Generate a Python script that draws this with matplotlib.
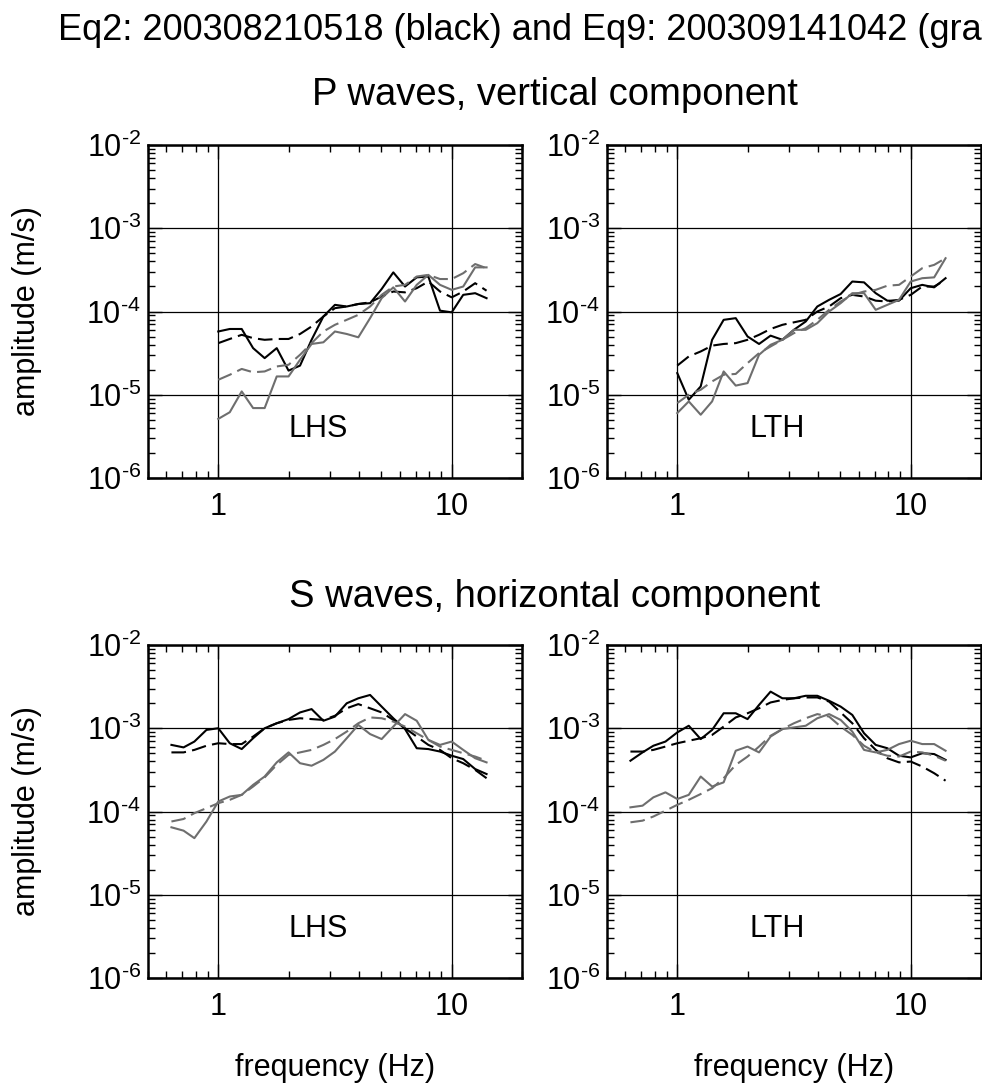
import numpy as np
import matplotlib
matplotlib.use('Agg')
import matplotlib.pyplot as plt
from matplotlib.ticker import LogLocator, FuncFormatter, NullFormatter

plt.rcParams['font.family'] = ['Liberation Sans', 'DejaVu Sans']
plt.rcParams['mathtext.fontset'] = 'custom'
plt.rcParams['mathtext.rm'] = 'Liberation Sans'
plt.rcParams['mathtext.it'] = 'Liberation Sans:italic'
plt.rcParams['mathtext.bf'] = 'Liberation Sans:bold'

# frequencies (Hz)
freq_p = [1.00, 1.12, 1.26, 1.41, 1.58, 1.78, 2.00, 2.24, 2.51, 2.82, 3.16, 3.55,
          3.98, 4.47, 5.01, 5.62, 6.31, 7.08, 7.94, 8.91, 10.0, 11.2, 12.6, 14.1]
freq_s = [0.63, 0.71, 0.79, 0.89, 1.00, 1.12, 1.26, 1.41, 1.58, 1.78, 2.00, 2.24,
          2.51, 2.82, 3.16, 3.55, 3.98, 4.47, 5.01, 5.62, 6.31, 7.08, 7.94, 8.91,
          10.0, 11.2, 12.6, 14.1]

# log10 amplitude (m/s)
# P waves, LHS
p_lhs_eq2 = [-4.24, -4.21, -4.21, -4.44, -4.56, -4.44, -4.71, -4.65, -4.34, -4.06, -3.92, -3.94,
             -3.91, -3.90, -3.73, -3.53, -3.70, -3.59, -3.58, -3.99, -4.01, -3.80, -3.78, -3.84]
p_lhs_eq2_fit = [-4.38, -4.33, -4.28, -4.32, -4.34, -4.33, -4.33, -4.27, -4.18, -4.06, -3.96, -3.94,
                 -3.91, -3.89, -3.82, -3.76, -3.77, -3.72, -3.64, -3.76, -3.83, -3.76, -3.66, -3.75]
p_lhs_eq9 = [-5.29, -5.21, -4.96, -5.16, -5.16, -4.78, -4.78, -4.58, -4.39, -4.37, -4.24, -4.27,
             -4.31, -4.08, -3.84, -3.71, -3.88, -3.68, -3.56, -3.68, -3.74, -3.70, -3.47, -3.47]
p_lhs_eq9_fit = [-4.82, -4.76, -4.69, -4.73, -4.72, -4.66, -4.64, -4.52, -4.38, -4.24, -4.16, -4.10,
                 -4.04, -3.94, -3.80, -3.70, -3.68, -3.58, -3.56, -3.61, -3.61, -3.54, -3.43, -3.48]
# P waves, LTH
p_lth_eq2 = [-4.74, -5.06, -4.90, -4.34, -4.10, -4.08, -4.30, -4.39, -4.29, -4.34, -4.22, -4.12,
             -3.94, -3.86, -3.79, -3.64, -3.65, -3.78, -3.87, -3.87, -3.72, -3.68, -3.71, -3.60]
p_lth_eq2_fit = [-4.65, -4.54, -4.48, -4.41, -4.39, -4.38, -4.34, -4.28, -4.21, -4.16, -4.13, -4.10,
                 -4.00, -3.94, -3.84, -3.80, -3.82, -3.87, -3.88, -3.86, -3.80, -3.70, -3.70, -3.62]
p_lth_eq9 = [-5.22, -5.08, -5.24, -5.08, -4.72, -4.89, -4.86, -4.52, -4.40, -4.34, -4.22, -4.22,
             -4.14, -4.00, -3.90, -3.78, -3.78, -3.98, -3.92, -3.86, -3.64, -3.60, -3.59, -3.36]
p_lth_eq9_fit = [-5.10, -5.00, -4.94, -4.84, -4.76, -4.75, -4.62, -4.50, -4.42, -4.34, -4.26, -4.20,
                 -4.10, -3.98, -3.88, -3.80, -3.76, -3.74, -3.69, -3.68, -3.58, -3.48, -3.44, -3.36]
# S waves, LHS
s_lhs_eq2 = [-3.20, -3.23, -3.16, -3.02, -3.00, -3.18, -3.25, -3.12, -3.00, -2.94, -2.89, -2.81,
             -2.77, -2.91, -2.86, -2.70, -2.64, -2.60, -2.74, -2.88, -3.01, -3.24, -3.25, -3.28,
             -3.33, -3.37, -3.49, -3.55]
s_lhs_eq2_fit = [-3.29, -3.29, -3.26, -3.21, -3.18, -3.19, -3.19, -3.10, -3.00, -2.94, -2.90, -2.88,
                 -2.89, -2.90, -2.85, -2.76, -2.71, -2.76, -2.81, -2.90, -3.00, -3.10, -3.20, -3.26,
                 -3.36, -3.42, -3.50, -3.60]
s_lhs_eq9 = [-4.19, -4.23, -4.32, -4.12, -3.88, -3.82, -3.80, -3.68, -3.58, -3.41, -3.29, -3.42,
             -3.45, -3.38, -3.28, -3.12, -2.96, -3.07, -3.13, -2.98, -2.83, -2.91, -3.14, -3.20,
             -3.16, -3.26, -3.36, -3.41]
s_lhs_eq9_fit = [-4.12, -4.09, -4.02, -3.96, -3.90, -3.86, -3.80, -3.70, -3.59, -3.44, -3.32, -3.29,
                 -3.26, -3.20, -3.13, -3.04, -2.94, -2.87, -2.88, -2.92, -2.98, -3.06, -3.14, -3.22,
                 -3.26, -3.30, -3.34, -3.39]
# S waves, LTH
s_lth_eq2 = [-3.39, -3.29, -3.21, -3.16, -3.05, -2.97, -3.13, -3.02, -2.82, -2.82, -2.89, -2.72,
             -2.56, -2.64, -2.64, -2.61, -2.61, -2.67, -2.74, -2.84, -3.06, -3.20, -3.24, -3.33,
             -3.35, -3.30, -3.31, -3.38]
s_lth_eq2_fit = [-3.28, -3.28, -3.26, -3.22, -3.18, -3.15, -3.12, -3.08, -2.98, -2.87, -2.82, -2.76,
                 -2.69, -2.66, -2.64, -2.63, -2.63, -2.68, -2.81, -2.94, -3.12, -3.26, -3.36, -3.41,
                 -3.40, -3.46, -3.54, -3.63]
s_lth_eq9 = [-3.95, -3.93, -3.83, -3.77, -3.85, -3.80, -3.58, -3.70, -3.65, -3.27, -3.22, -3.29,
             -3.10, -3.01, -2.99, -2.97, -2.88, -2.83, -2.90, -3.04, -3.26, -3.29, -3.26, -3.19,
             -3.15, -3.19, -3.19, -3.27]
s_lth_eq9_fit = [-4.13, -4.11, -4.06, -3.99, -3.92, -3.86, -3.79, -3.72, -3.60, -3.44, -3.34, -3.22,
                 -3.09, -3.01, -2.94, -2.88, -2.83, -2.86, -2.98, -3.08, -3.21, -3.29, -3.33, -3.34,
                 -3.28, -3.29, -3.33, -3.39]

GRAY = '#6e6e6e'
W, H = 982, 1091


def _ytick(v, pos):
    e = int(round(np.log10(v)))
    return r'$10^{\text{-}%d}$' % abs(e)


def _setup(ax, station):
    ax.set_xscale('log')
    ax.set_yscale('log')
    ax.set_xlim(0.5, 20)
    ax.set_ylim(1e-6, 1e-2)
    ax.xaxis.set_major_locator(LogLocator(base=10, numticks=5))
    ax.xaxis.set_minor_locator(LogLocator(base=10, subs=np.arange(2, 10), numticks=20))
    ax.yaxis.set_major_locator(LogLocator(base=10, numticks=10))
    ax.yaxis.set_minor_locator(LogLocator(base=10, subs=np.arange(2, 10), numticks=20))
    ax.xaxis.set_major_formatter(FuncFormatter(lambda v, p: '%g' % v))
    ax.xaxis.set_minor_formatter(NullFormatter())
    ax.yaxis.set_major_formatter(FuncFormatter(_ytick))
    ax.yaxis.set_minor_formatter(NullFormatter())
    ax.tick_params(which='both', direction='in', top=True, right=True, labelsize=22)
    ax.tick_params(which='major', length=10, width=1.0)
    ax.tick_params(which='minor', length=5, width=1.0)
    ax.tick_params(axis='x', which='major', pad=10)
    ax.tick_params(axis='y', which='major', pad=5)
    ax.grid(True, which='major', color='black', linewidth=0.9)
    ax.set_axisbelow(True)
    for s in ax.spines.values():
        s.set_linewidth(1.8)
    ax.text(0.456, 0.147, station, transform=ax.transAxes, ha='center', va='center',
            fontsize=22)


def _draw(ax, freq, eq2, eq2_fit, eq9, eq9_fit):
    ax.plot(freq, 10 ** np.asarray(eq2), color='black', lw=1.5)
    ax.plot(freq, 10 ** np.asarray(eq2_fit), color='black', lw=1.5, ls=(0, (7, 3)))
    ax.plot(freq, 10 ** np.asarray(eq9), color=GRAY, lw=1.5)
    ax.plot(freq, 10 ** np.asarray(eq9_fit), color=GRAY, lw=1.5, ls=(0, (7, 3)))


def main():
    fig = plt.figure(figsize=(W / 100, H / 100), dpi=100)
    pw, ph = 374 / W, 333 / H
    ax1 = fig.add_axes([148 / W, 1 - 478 / H, pw, ph])
    ax2 = fig.add_axes([607 / W, 1 - 478 / H, pw, ph])
    ax3 = fig.add_axes([148 / W, 1 - 978 / H, pw, ph])
    ax4 = fig.add_axes([607 / W, 1 - 978 / H, pw, ph])

    _draw(ax1, freq_p, p_lhs_eq2, p_lhs_eq2_fit, p_lhs_eq9, p_lhs_eq9_fit)
    _draw(ax2, freq_p, p_lth_eq2, p_lth_eq2_fit, p_lth_eq9, p_lth_eq9_fit)
    _draw(ax3, freq_s, s_lhs_eq2, s_lhs_eq2_fit, s_lhs_eq9, s_lhs_eq9_fit)
    _draw(ax4, freq_s, s_lth_eq2, s_lth_eq2_fit, s_lth_eq9, s_lth_eq9_fit)

    for ax, st in zip([ax1, ax2, ax3, ax4], ['LHS', 'LTH', 'LHS', 'LTH']):
        _setup(ax, st)

    # the reference figure is cropped on the right, so the main title runs off the edge
    fig.text(535 / W, 1 - 30 / H, 'Eq2: 200308210518 (black) and Eq9: 200309141042 (gray)',
             ha='center', va='center', fontsize=26)
    fig.text(555 / W, 1 - 95 / H, 'P waves, vertical component',
             ha='center', va='center', fontsize=27.5)
    fig.text(555 / W, 1 - 597 / H, 'S waves, horizontal component',
             ha='center', va='center', fontsize=27.5)
    for yc in (311, 811):
        fig.text(27 / W, 1 - yc / H, 'amplitude (m/s)', rotation=90,
                 ha='center', va='center', fontsize=22)
    for xc in (335, 794):
        fig.text(xc / W, 1 - 1068 / H, 'frequency (Hz)', ha='center', va='center', fontsize=22)

    fig.savefig('out.png', dpi=100)


if __name__ == '__main__':
    main()
